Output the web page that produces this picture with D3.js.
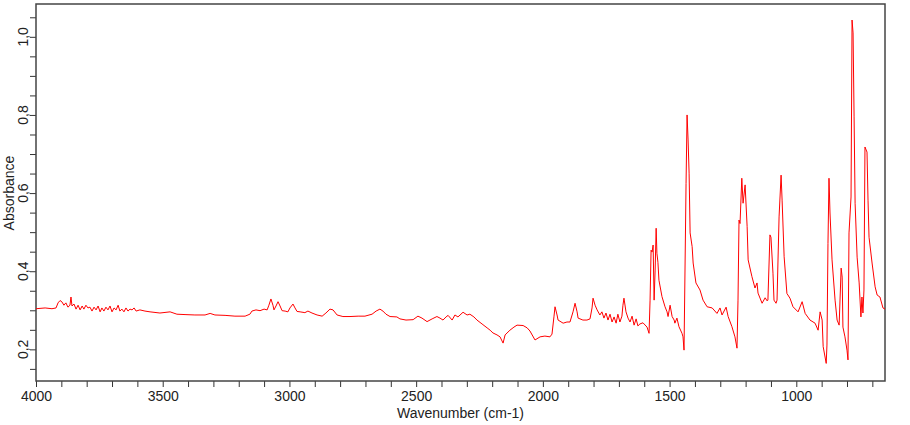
<!DOCTYPE html>
<html>
<head>
<meta charset="utf-8">
<script src="https://cdn.jsdelivr.net/npm/d3@7"></script>
<style>
  body { margin: 0; background: #fff; }
  svg { font-family: "Liberation Sans", Arial, sans-serif; }
  .tick line { stroke: #333; }
</style>
</head>
<body>
<svg width="910" height="425"></svg>
<script>
// spectrum (cm-1, absorbance)
const wavenumber = [
  4000, 3964, 3937, 3921, 3913, 3905, 3897, 3890, 3882, 3874, 3866, 3862, 3858, 3850, 3842, 3834,
  3826, 3818, 3811, 3803, 3795, 3787, 3779, 3771, 3763, 3755, 3747, 3740, 3732, 3724, 3716, 3708,
  3700, 3692, 3684, 3676, 3669, 3661, 3653, 3645, 3637, 3629, 3621, 3613, 3605, 3590, 3570, 3550,
  3511, 3471, 3444, 3412, 3373, 3333, 3313, 3294, 3254, 3215, 3175, 3156, 3148, 3132, 3116, 3100,
  3088, 3081, 3073, 3065, 3061, 3053, 3045, 3037, 3029, 3017, 3006, 2998, 2986, 2978, 2970, 2958,
  2939, 2927, 2911, 2891, 2871, 2856, 2840, 2828, 2812, 2789, 2761, 2729, 2702, 2674, 2658, 2643,
  2631, 2619, 2603, 2576, 2564, 2540, 2512, 2493, 2477, 2457, 2437, 2418, 2406, 2394, 2382, 2374,
  2358, 2347, 2335, 2315, 2299, 2288, 2272, 2260, 2240, 2220, 2208, 2197, 2181, 2169, 2157, 2149,
  2130, 2114, 2102, 2078, 2062, 2051, 2031, 2011, 1992, 1972, 1964, 1956, 1952, 1944, 1940, 1920,
  1905, 1893, 1881, 1873, 1865, 1861, 1842, 1826, 1814, 1806, 1802, 1794, 1786, 1775, 1767, 1759,
  1751, 1743, 1735, 1727, 1719, 1711, 1704, 1696, 1688, 1684, 1680, 1672, 1664, 1656, 1648, 1640,
  1632, 1625, 1617, 1605, 1589, 1581, 1577, 1573, 1569, 1565, 1561, 1557, 1553, 1550, 1546, 1542,
  1530, 1518, 1510, 1506, 1498, 1490, 1482, 1479, 1471, 1463, 1451, 1447, 1443, 1435, 1431, 1427,
  1423, 1419, 1411, 1407, 1396, 1380, 1368, 1352, 1332, 1313, 1301, 1293, 1277, 1269, 1254, 1242,
  1234, 1230, 1226, 1222, 1215, 1210, 1202, 1194, 1190, 1175, 1163, 1155, 1151, 1135, 1123, 1115,
  1112, 1104, 1100, 1092, 1088, 1080, 1076, 1068, 1060, 1056, 1048, 1037, 1025, 1013, 993, 977,
  965, 946, 926, 914, 906, 898, 894, 882, 879, 875, 871, 867, 859, 847, 839, 831,
  823, 819, 816, 808, 800, 796, 792, 784, 780, 776, 772, 768, 760, 752, 745, 741,
  737, 733, 729, 721, 717, 713, 701, 689, 681, 670, 658, 650
];
const absorbance = [
  .304, .306, .304, .306, .319, .325, .321, .313, .319, .308, .313, .334, .311, .316, .303, .313,
  .301, .311, .303, .313, .306, .308, .298, .308, .301, .311, .296, .306, .298, .308, .301, .311,
  .296, .306, .301, .313, .298, .303, .296, .306, .298, .303, .301, .306, .298, .301, .298, .296,
  .293, .296, .290, .289, .288, .288, .292, .288, .287, .285, .285, .290, .298, .301, .299, .303,
  .301, .313, .329, .313, .301, .311, .322, .311, .299, .298, .296, .306, .316, .306, .297, .296,
  .294, .298, .293, .288, .285, .293, .303, .301, .288, .284, .284, .285, .285, .290, .298, .303,
  .298, .290, .284, .283, .278, .275, .276, .285, .280, .271, .278, .284, .280, .275, .283, .287,
  .275, .288, .283, .295, .288, .290, .283, .275, .265, .255, .249, .242, .237, .232, .216, .237,
  .249, .257, .262, .261, .255, .247, .224, .232, .234, .232, .239, .285, .309, .288, .275, .267,
  .270, .270, .296, .318, .296, .280, .275, .275, .278, .306, .331, .313, .301, .288, .296, .280,
  .293, .275, .290, .270, .283, .267, .290, .270, .285, .313, .331, .296, .280, .270, .285, .262,
  .278, .260, .265, .268, .257, .241, .326, .454, .449, .467, .326, .403, .510, .446, .423, .377,
  .335, .309, .296, .284, .313, .284, .275, .267, .280, .258, .241, .232, .198, .625, .800, .736,
  .651, .498, .463, .421, .370, .352, .326, .309, .306, .292, .306, .288, .308, .284, .258, .232,
  .203, .326, .531, .522, .638, .574, .621, .514, .429, .386, .357, .370, .344, .318, .332, .324,
  .326, .493, .487, .395, .326, .318, .326, .539, .646, .582, .437, .343, .331, .309, .296, .322,
  .292, .275, .267, .249, .296, .275, .207, .164, .211, .471, .638, .549, .429, .326, .275, .262,
  .408, .385, .257, .232, .198, .173, .498, .590, 1.043, 1.010, .795, .574, .436, .370, .283, .334,
  .293, .352, .718, .705, .582, .487, .421, .360, .339, .334, .306, .303
];

const xTickValues = [4000, 3900, 3800, 3700, 3600, 3500, 3400, 3300, 3200, 3100, 3000, 2900, 2800,
  2700, 2600, 2500, 2400, 2300, 2200, 2100, 2000, 1900, 1800, 1700, 1600, 1500, 1400, 1300, 1200,
  1100, 1000, 900, 800, 700];
const xLabels = [4000, 3500, 3000, 2500, 2000, 1500, 1000];
const yTickValues = [0.15, 0.2, 0.25, 0.3, 0.35, 0.4, 0.45, 0.5, 0.55, 0.6, 0.65, 0.7, 0.75, 0.8,
  0.85, 0.9, 0.95, 1.0, 1.05];
const yLabels = [0.2, 0.4, 0.6, 0.8, 1.0];

const margin = { top: 4, right: 25, bottom: 44, left: 36 },
      width = 910 - margin.left - margin.right,
      height = 425 - margin.top - margin.bottom;

const svg = d3.select("svg")
  .append("g")
  .attr("transform", `translate(${margin.left},${margin.top})`);

const x = d3.scaleLinear().domain([4000, 650]).range([0, width]);
const y = d3.scaleLinear().domain([0.119, 1.084]).range([height, 0]);

svg.append("clipPath").attr("id", "plot")
  .append("rect").attr("width", width).attr("height", height);

// y ticks
const yAxis = svg.append("g")
  .call(d3.axisLeft(y).tickValues(yTickValues).tickFormat("").tickSize(6).tickSizeOuter(0));
yAxis.select(".domain").remove();

svg.append("g")
  .selectAll("text")
  .data(yLabels)
  .join("text")
  .attr("transform", d => `translate(-8,${y(d)}) rotate(-90)`)
  .attr("text-anchor", "middle")
  .attr("font-size", 14)
  .attr("fill", "#222")
  .text(d => d3.format(".1f")(d).replace(".", ","));

// x ticks
const xAxis = svg.append("g")
  .attr("transform", `translate(0,${height})`)
  .call(d3.axisBottom(x).tickValues(xTickValues).tickSize(6).tickSizeOuter(0)
    .tickFormat(d => xLabels.includes(d) ? d : ""));
xAxis.select(".domain").remove();
xAxis.selectAll("text")
  .attr("font-size", 14)
  .attr("font-family", "Liberation Sans, Arial, sans-serif")
  .attr("fill", "#222")
  .attr("y", 10);

// frame
svg.append("rect")
  .attr("width", width)
  .attr("height", height)
  .attr("fill", "none")
  .attr("stroke", "#444")
  .attr("stroke-width", 1.5);

const line = d3.line()
  .x((d, i) => x(wavenumber[i]))
  .y(d => y(d));

svg.append("path")
  .datum(absorbance)
  .attr("clip-path", "url(#plot)")
  .attr("fill", "none")
  .attr("stroke", "#ff0000")
  .attr("stroke-width", 1)
  .attr("d", line);

svg.append("text")
  .attr("x", width / 2)
  .attr("y", height + 37)
  .attr("text-anchor", "middle")
  .attr("font-size", 14)
  .attr("fill", "#222")
  .text("Wavenumber (cm-1)");

svg.append("text")
  .attr("transform", `translate(-22,${y(0.6)}) rotate(-90)`)
  .attr("text-anchor", "middle")
  .attr("font-size", 14)
  .attr("fill", "#222")
  .text("Absorbance");
</script>
</body>
</html>
